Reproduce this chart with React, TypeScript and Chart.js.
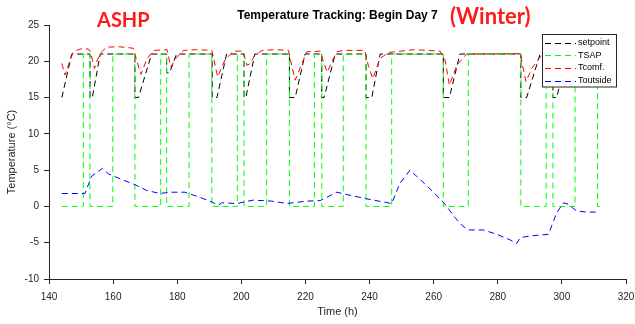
import React, { useEffect, useRef } from "react";
import { Chart, registerables } from "chart.js";

Chart.register(...registerables);

// ---- axes ----
const X_MIN = 140;
const X_MAX = 320;
const X_STEP = 20;
const Y_MIN = -10;
const Y_MAX = 25;
const Y_STEP = 5;

const TITLE = "Temperature Tracking: Begin Day 7";
const NOTE_LEFT = "ASHP";
const NOTE_RIGHT = "(Winter)";
const X_LABEL = "Time (h)";
const Y_LABEL = "Temperature (°C)";

const seriesNames = ["setpoint", "TSAP", "Tcomf.", "Toutside"];
const seriesColors = ["#000000", "#00ff00", "#ff0000", "#0000ff"];

// ---- setpoint ----
const setpointTime = [
  144, 147.1, 152.8, 152.8, 153.5, 156.0, 166.8, 166.8, 167.9, 172.0,
  176.7, 176.7, 177.6, 179.8, 190.9, 190.9, 192.4, 195.4, 200.85, 200.85,
  201.4, 204.2, 215.0, 215.0, 216.8, 219.9, 225.1, 225.1, 225.8, 229.3,
  238.9, 238.9, 240.7, 243.3, 263.0, 263.0, 264.9, 268.2, 287.2, 287.2,
  289.0, 293.2, 297.2, 297.2, 298.4, 301.5, 312,
];
const setpointValue = [
  15, 21, 21, 15, 15, 21, 21, 15, 15, 21,
  21, 18.4, 18.4, 21, 21, 15, 15, 21, 21, 15,
  15, 21, 21, 15, 15, 21, 21, 15, 15, 21,
  21, 15, 15, 21, 21, 15, 15, 21, 21, 15,
  15, 21, 21, 15, 15, 21, 21,
];

// ---- TSAP ----
const tsapTime = [
  144, 150.7, 150.7, 152.8, 152.8, 159.9, 159.9, 166.8, 166.8, 174.85,
  174.85, 176.7, 176.7, 183.7, 183.7, 190.8, 190.8, 198.75, 198.75, 200.85,
  200.85, 207.9, 207.9, 215.0, 215.0, 222.8, 222.8, 225.1, 225.1, 231.8,
  231.8, 238.9, 238.9, 246.9, 246.9, 263.0, 263.0, 270.8, 270.8, 287.2,
  287.2, 295.1, 295.1, 297.2, 297.2, 304.1, 304.1, 311.1, 311.1, 312,
];
const tsapValue = [
  0, 0, 21, 21, 0, 0, 21, 21, 0, 0,
  21, 21, 0, 0, 21, 21, 0, 0, 21, 21,
  0, 0, 21, 21, 0, 0, 21, 21, 0, 0,
  21, 21, 0, 0, 21, 21, 0, 0, 21, 21,
  0, 0, 21, 21, 0, 0, 21, 21, 0, 0,
];

// ---- Tcomf. ----
const tcomfTime = [
  144, 145, 146.3, 147.6, 149.7, 152.3, 152.9, 154.2, 155.2, 156.4,
  158, 162, 166.3, 167.5, 168.7, 170.5, 172.6, 176.8, 178, 179.4,
  181.9, 186, 190.8, 191.6, 192.6, 195, 197.6, 200.6, 201.7, 202.5,
  204.2, 206.4, 210.5, 214.7, 215.7, 216.8, 218.9, 220.4, 224.6, 225.8,
  226.8, 228.3, 229.8, 231.8, 238.5, 239.6, 241, 243.3, 245.9, 253.7,
  262, 263.6, 264.9, 267.2, 270.3, 287.2, 287.5, 288.8, 290.6, 293.2,
  295, 297.2, 298.3, 300.5, 303, 311,
];
const tcomfValue = [
  19.7, 18.1, 19.8, 21.3, 21.7, 21.7, 21.3, 19.0, 20.3, 21.3,
  21.95, 22.0, 21.8, 19.9, 18.2, 20.3, 21.5, 21.6, 19.2, 20.3,
  21.5, 21.6, 21.5, 19.9, 17.85, 20.3, 21.4, 21.4, 19.45, 19.6,
  20.8, 21.5, 21.6, 21.5, 19.45, 17.4, 19.7, 21.3, 21.4, 19.7,
  18.5, 20.0, 21.3, 21.5, 21.5, 19.45, 17.6, 20.4, 21.2, 21.6,
  21.4, 20.1, 16.7, 19.45, 21.0, 21.05, 19.9, 17.2, 19.0, 20.6,
  21.1, 21.0, 18.5, 20.5, 21.1, 21.1,
];

// ---- Toutside ----
const toutTime = [
  144, 151.2, 153.3, 156.7, 158.5, 162.2, 166.8, 170.5, 174.6, 177.8,
  182.4, 186.1, 190.2, 192.8, 193.9, 198.6, 203.7, 209.5, 214.2, 220.4,
  224.6, 229.8, 232.9, 239.1, 246.9, 249.5, 252.6, 255.8, 258.9, 263,
  266.7, 268.8, 270.8, 275.5, 279.7, 283.8, 285.9, 287, 290.1, 295.8,
  298.4, 300.5, 302, 304.6, 307.8, 310.9,
];
const toutValue = [
  1.78, 1.78, 4.15, 5.25, 4.5, 3.8, 3.0, 2.2, 1.78, 1.96,
  1.96, 1.4, 0.73, 0.18, 0.5, 0.4, 0.87, 0.73, 0.4, 0.73,
  0.8, 1.96, 1.64, 1.05, 0.4, 3.2, 5.0, 3.7, 2.4, 0.6,
  -1.55, -2.6, -3.24, -3.24, -3.84, -4.6, -5.1, -4.3, -4.07, -3.84,
  -0.87, 0.5, 0.3, -0.64, -0.78, -0.78,
];

const AXIS_COLOR = "#262626";
const FONT = '"Liberation Sans", Arial, Helvetica, sans-serif';
const DASH = [6, 4];

function toPoints(t: number[], v: number[]) {
  return t.map((x, i) => ({ x, y: v[i] }));
}

const overlayPlugin = {
  id: "overlay",
  afterDraw(chart: any) {
    const ctx = chart.ctx as CanvasRenderingContext2D;
    const area = chart.chartArea;
    ctx.save();
    // title
    ctx.fillStyle = "#000000";
    ctx.font = `bold 12px ${FONT}`;
    ctx.textAlign = "center";
    ctx.textBaseline = "alphabetic";
    ctx.fillText(TITLE, (area.left + area.right) / 2, 19);
    // red notes
    ctx.fillStyle = "#ff1a1a";
    ctx.textAlign = "left";
    ctx.font = "bold 20px Lato, sans-serif";
    ctx.fillText(NOTE_LEFT, 97, 26.5);
    ctx.font = "bold 22px Lato, sans-serif";
    ctx.fillText(NOTE_RIGHT, 450, 23.5);

    // legend
    const lx = 542.5, ly = 34.5, lw = 74, lh = 52.5;
    ctx.fillStyle = "#ffffff";
    ctx.fillRect(lx, ly, lw, lh);
    ctx.setLineDash([]);
    ctx.lineWidth = 1;
    ctx.strokeStyle = AXIS_COLOR;
    ctx.strokeRect(lx, ly, lw, lh);
    ctx.font = `9px ${FONT}`;
    ctx.textBaseline = "middle";
    seriesNames.forEach((name, i) => {
      const y = 42.5 + i * 12.7;
      ctx.strokeStyle = seriesColors[i];
      ctx.setLineDash(DASH);
      ctx.beginPath();
      ctx.moveTo(545, Math.round(y) + 0.5);
      ctx.lineTo(576, Math.round(y) + 0.5);
      ctx.stroke();
      ctx.fillStyle = "#000000";
      ctx.fillText(name, 578, y);
    });
    ctx.restore();
  },
};

export default function App() {
  const ref = useRef<HTMLCanvasElement | null>(null);

  useEffect(() => {
    if (!ref.current) return;
    const mk = (idx: number, t: number[], v: number[]) => ({
      label: seriesNames[idx],
      data: toPoints(t, v),
      borderColor: seriesColors[idx],
      backgroundColor: seriesColors[idx],
      borderWidth: 1,
      borderDash: DASH,
      pointRadius: 0,
      fill: false,
      tension: 0,
    });
    const chart = new Chart(ref.current, {
      type: "line",
      data: {
        datasets: [
          mk(3, toutTime, toutValue),
          mk(2, tcomfTime, tcomfValue),
          mk(1, tsapTime, tsapValue),
          mk(0, setpointTime, setpointValue),
        ],
      },
      options: {
        animation: false,
        responsive: false,
        devicePixelRatio: 1,
        layout: { padding: { left: 0, right: 9, top: 25, bottom: 0 } },
        plugins: {
          legend: { display: false },
          title: { display: false },
          tooltip: { enabled: false },
        },
        scales: {
          x: {
            type: "linear",
            min: X_MIN,
            max: X_MAX,
            ticks: {
              stepSize: X_STEP,
              color: AXIS_COLOR,
              font: { size: 10, family: FONT },
              padding: 7,
              maxRotation: 0,
              autoSkip: false,
            },
            grid: {
              drawOnChartArea: false,
              drawTicks: true,
              tickLength: 5,
              color: AXIS_COLOR,
            },
            border: { display: true, color: AXIS_COLOR },
            title: {
              display: true,
              text: X_LABEL,
              color: AXIS_COLOR,
              font: { size: 11, family: FONT },
              padding: { top: 0, bottom: 5 },
            },
            afterFit: (s: any) => {
              s.height = 45;
              s.paddingLeft = 0;
              s.paddingRight = 0;
            },
          },
          y: {
            type: "linear",
            min: Y_MIN,
            max: Y_MAX,
            ticks: {
              stepSize: Y_STEP,
              color: AXIS_COLOR,
              font: { size: 10, family: FONT },
              padding: 5,
            },
            grid: {
              drawOnChartArea: false,
              drawTicks: true,
              tickLength: 5,
              color: AXIS_COLOR,
            },
            border: { display: true, color: AXIS_COLOR },
            title: {
              display: true,
              text: Y_LABEL,
              color: AXIS_COLOR,
              font: { size: 11, family: FONT },
              padding: { top: 5, bottom: 0 },
            },
            afterFit: (s: any) => {
              s.width = 49;
              s.paddingTop = 0;
              s.paddingBottom = 0;
            },
          },
        },
      },
      plugins: [overlayPlugin],
    });
    return () => chart.destroy();
  }, []);

  return (
    <div style={{ position: "fixed", left: 0, top: 0, width: 635, height: 324, background: "#ffffff" }}>
      <canvas ref={ref} width={635} height={324} style={{ width: 635, height: 324, display: "block" }} />
    </div>
  );
}
